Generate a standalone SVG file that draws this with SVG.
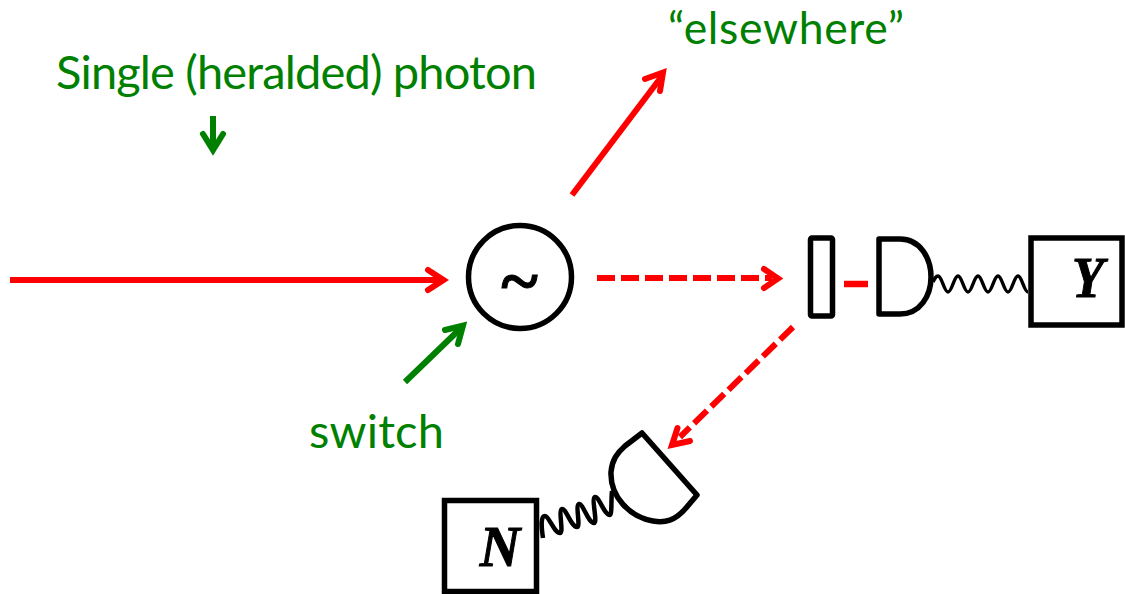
<svg xmlns="http://www.w3.org/2000/svg" width="1125" height="594" viewBox="0 0 1125 594">
<style>
.blk{fill:#fff;stroke:#000;stroke-width:5.5;stroke-linejoin:round}
.sq{fill:#fff;stroke:#000;stroke-width:5.5;stroke-linejoin:miter}
.wire{fill:none;stroke:#000;stroke-width:3.5}
.wire2{fill:none;stroke:#000;stroke-width:4.5}
.red{fill:none;stroke:#f00;stroke-width:6}
.dash{stroke-dasharray:18 6}
.head{fill:none;stroke-width:6;stroke-linecap:round;stroke-linejoin:miter;stroke-miterlimit:10}
.grn{fill:none;stroke:#008000;stroke-width:6}
.t{font-family:"Lato","Carlito","Liberation Sans",sans-serif;font-size:47px;fill:#008000}
.m{font-family:"Liberation Serif",serif;font-style:italic;font-weight:bold;font-size:56px;fill:#000;stroke:#000;stroke-width:1}
</style>
<g id="connectors">
<path class="red" d="M10,280H444"/>
<path class="head" stroke="#f00" d="M428,270L443.500,280L428,290"/>
<path class="red" d="M572,195L662,76"/>
<path class="head" stroke="#f00" d="M645,79L663,72.500L660,91"/>
<path class="red dash" d="M597,278H772"/>
<path class="head" stroke="#f00" d="M764,269L778,278.500L764,288"/>
<path class="red dash" d="M793,327L680,437"/>
<path class="head" stroke="#f00" d="M677.500,428L672,445L690,441"/>
<path d="M844,284H868" stroke="#f00" stroke-width="6.500" fill="none"/>
<path class="grn" d="M405,382L462,327"/>
<path class="head" stroke="#008000" d="M445,330L463,325.600L458,344"/>
<path class="grn" d="M213,116V148"/>
<path class="head" stroke="#008000" d="M203,134L213,150L223,134"/>
<path class="wire" d="M933,282C935,278 936,276 938,276C942,276 944,292 948,292C952,292 954,276 958,276C962,276 964,292 968,292C972,292 974,276 978,276C982,276 984,292 988,292C992,292 994,276 998,276C1002,276 1004,292 1008,292C1012,292 1014,276 1018,276C1022,276 1024,292 1028,292"/>
<path class="wire2" d="M543,538C541,525 541,516 545,516C549,516 554,533 560,533C564,533 558,510 562,509C566,508 571,527 577,527C581,527 575,505 579,504C583,503 588,523 594,523C598,523 591,498 595,497C599,496 604,515 610,515C612,515 611,500 612,491"/>
</g>
<g id="node-circle"><circle class="blk" cx="520" cy="277" r="51.500"/><text class="m" x="519" y="304" text-anchor="middle" style="font-size:70px">~</text></g>
<g id="node-filter"><rect class="blk" x="810.500" y="238" width="22" height="78" rx="1.500"/></g>
<g id="node-detector-y"><path class="blk" d="M879,239H900C920,239 931,258 931,277C931,296 920,314 900,314H879Z"/></g>
<g id="node-y"><rect class="sq" x="1031" y="238" width="91" height="87"/><text class="m" x="1072" y="297" textLength="32" lengthAdjust="spacingAndGlyphs">Y</text></g>
<g id="node-detector-n"><path class="blk" d="M642,433L697,495L686,508C675,521 665,523 653,521C630,517 610,497 611,472C612,460 617,453 625,446Z"/></g>
<g id="node-n"><rect class="sq" x="444.500" y="500.500" width="92" height="91"/><text class="m" x="500" y="566" text-anchor="middle">N</text></g>
<g id="labels">
<text class="t" x="56" y="89" textLength="481" lengthAdjust="spacing">Single (heralded) photon</text>
<text class="t" x="668" y="44" textLength="236" lengthAdjust="spacing" style="font-size:44.500px">“elsewhere”</text>
<text class="t" x="309" y="448" textLength="135" lengthAdjust="spacing">switch</text>
</g>
</svg>
